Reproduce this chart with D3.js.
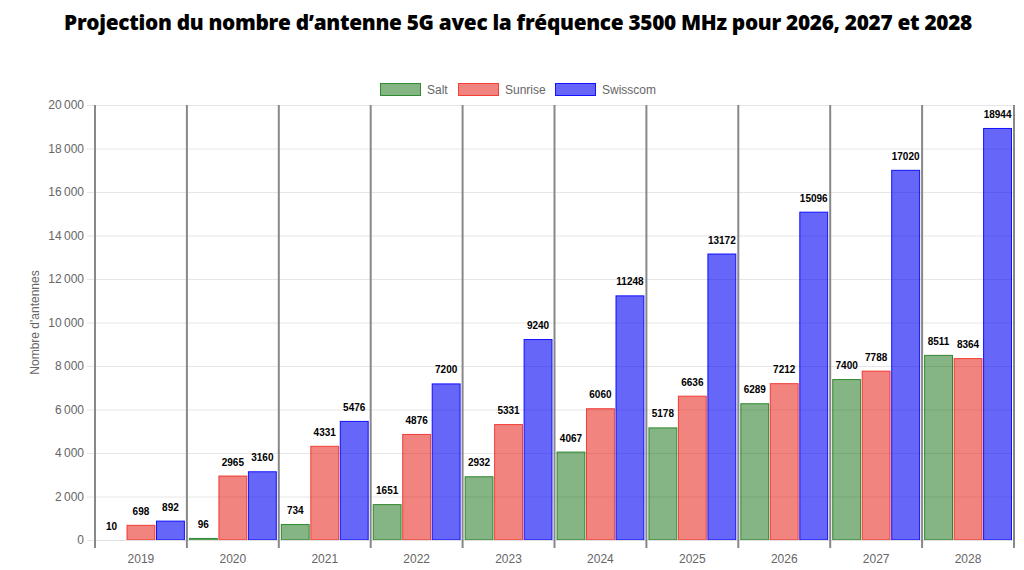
<!DOCTYPE html>
<html><head><meta charset="utf-8">
<script src="https://cdn.jsdelivr.net/npm/d3@7/dist/d3.min.js"></script>
<style>body{margin:0;background:#fff;}svg{display:block;}</style>
</head><body>
<svg id="c" width="1024" height="570"></svg>
<script>
const years = ["2019","2020","2021","2022","2023","2024","2025","2026","2027","2028"];
const seriesNames = ["Salt","Sunrise","Swisscom"];
const salt = [10,96,734,1651,2932,4067,5178,6289,7400,8511];
const sunrise = [698,2965,4331,4876,5331,6060,6636,7212,7788,8364];
const swisscom = [892,3160,5476,7200,9240,11248,13172,15096,17020,18944];
const yTicks = [0,2000,4000,6000,8000,10000,12000,14000,16000,18000,20000];
const fills = ["rgba(0,100,0,0.48)","rgba(230,10,0,0.5)","rgba(0,0,245,0.6)"];
const strokes = ["rgba(0,110,0,0.75)","rgba(240,20,10,0.75)","rgba(0,0,255,0.9)"];
const values = [salt,sunrise,swisscom];

const svg = d3.select("#c");
const L=95,R=1014,T=105,B=540;
const x = d3.scaleBand().domain(years).range([L,R]).paddingInner(0).paddingOuter(0);
const x1 = d3.scaleBand().domain(seriesNames).range([2,x.bandwidth()-2]).paddingInner(0.02);
const y = d3.scaleLinear().domain([0,20000]).range([B,T]);
const fmt = v => d3.format(",")(v).replace(/,/g,"\u202F");

// title
svg.append("text").attr("x",518).attr("y",30).attr("text-anchor","middle")
  .style("font-family","'Open Sans',sans-serif").style("font-weight","800").style("font-size","20.8px")
  .style("letter-spacing","-0.3px").attr("fill","#000")
  .text("Projection du nombre d\u2019antenne 5G avec la fr\u00e9quence 3500 MHz pour 2026, 2027 et 2028");

// grid
const g = svg.append("g");
g.selectAll("line.h").data(yTicks).join("line")
  .attr("x1",L-8).attr("x2",R).attr("y1",d=>y(d)+0.5).attr("y2",d=>y(d)+0.5)
  .attr("stroke","#e6e6e6").attr("stroke-width",1);
g.selectAll("text.yt").data(yTicks).join("text")
  .attr("x",L-11).attr("y",d=>y(d)+4).attr("text-anchor","end")
  .style("font-family","'Liberation Sans',Arial,sans-serif").style("font-size","12px").attr("fill","#666")
  .text(fmt);

// y label
svg.append("text").attr("transform",`translate(39,${(T+B)/2}) rotate(-90)`).attr("text-anchor","middle")
  .style("font-family","'Liberation Sans',Arial,sans-serif").style("font-size","12px").attr("fill","#666")
  .text("Nombre d'antennes");

// bars
const grp = svg.append("g").selectAll("g").data(years).join("g").attr("transform",d=>`translate(${x(d)},0)`);
seriesNames.forEach((s,si)=>{
  grp.append("rect")
    .attr("x",x1(s)+0.5).attr("width",x1.bandwidth()-1)
    .attr("y",(d,i)=>y(values[si][i])+0.5).attr("height",(d,i)=>Math.max(0,B-y(values[si][i])-0.5))
    .attr("fill",fills[si]).attr("stroke",strokes[si]).attr("stroke-width",1);
  grp.append("text")
    .attr("x",x1(s)+x1.bandwidth()/2).attr("y",(d,i)=>y(values[si][i])-10)
    .attr("text-anchor","middle")
    .style("font-family","'Liberation Sans',Arial,sans-serif").style("font-weight","bold").style("font-size","10px")
    .attr("fill","#000").text((d,i)=>values[si][i]);
});

// baseline
svg.append("line").attr("x1",L).attr("x2",R).attr("y1",B+0.5).attr("y2",B+0.5).attr("stroke","#e0e0e0");

// vertical category boundaries
const bounds = years.map(d=>x(d)).concat([R]);
svg.append("g").selectAll("line").data(bounds).join("line")
  .attr("x1",d=>d).attr("x2",d=>d).attr("y1",T).attr("y2",B+8)
  .attr("stroke","#888").attr("stroke-width",2);

// x labels
svg.append("g").selectAll("text").data(years).join("text")
  .attr("x",d=>x(d)+x.bandwidth()/2).attr("y",563).attr("text-anchor","middle")
  .style("font-family","'Liberation Sans',Arial,sans-serif").style("font-size","12px").attr("fill","#666")
  .text(d=>d);

// legend
const legX = [380,458,555];
const lg = svg.append("g").selectAll("g").data(seriesNames).join("g")
  .attr("transform",(d,i)=>`translate(${legX[i]},83)`);
lg.append("rect").attr("x",0.5).attr("y",0.5).attr("width",40).attr("height",12)
  .attr("fill",(d,i)=>fills[i]).attr("stroke",(d,i)=>strokes[i]);
lg.append("text").attr("x",47).attr("y",11)
  .style("font-family","'Liberation Sans',Arial,sans-serif").style("font-size","12px").attr("fill","#666")
  .text(d=>d);
</script>
</body></html>
